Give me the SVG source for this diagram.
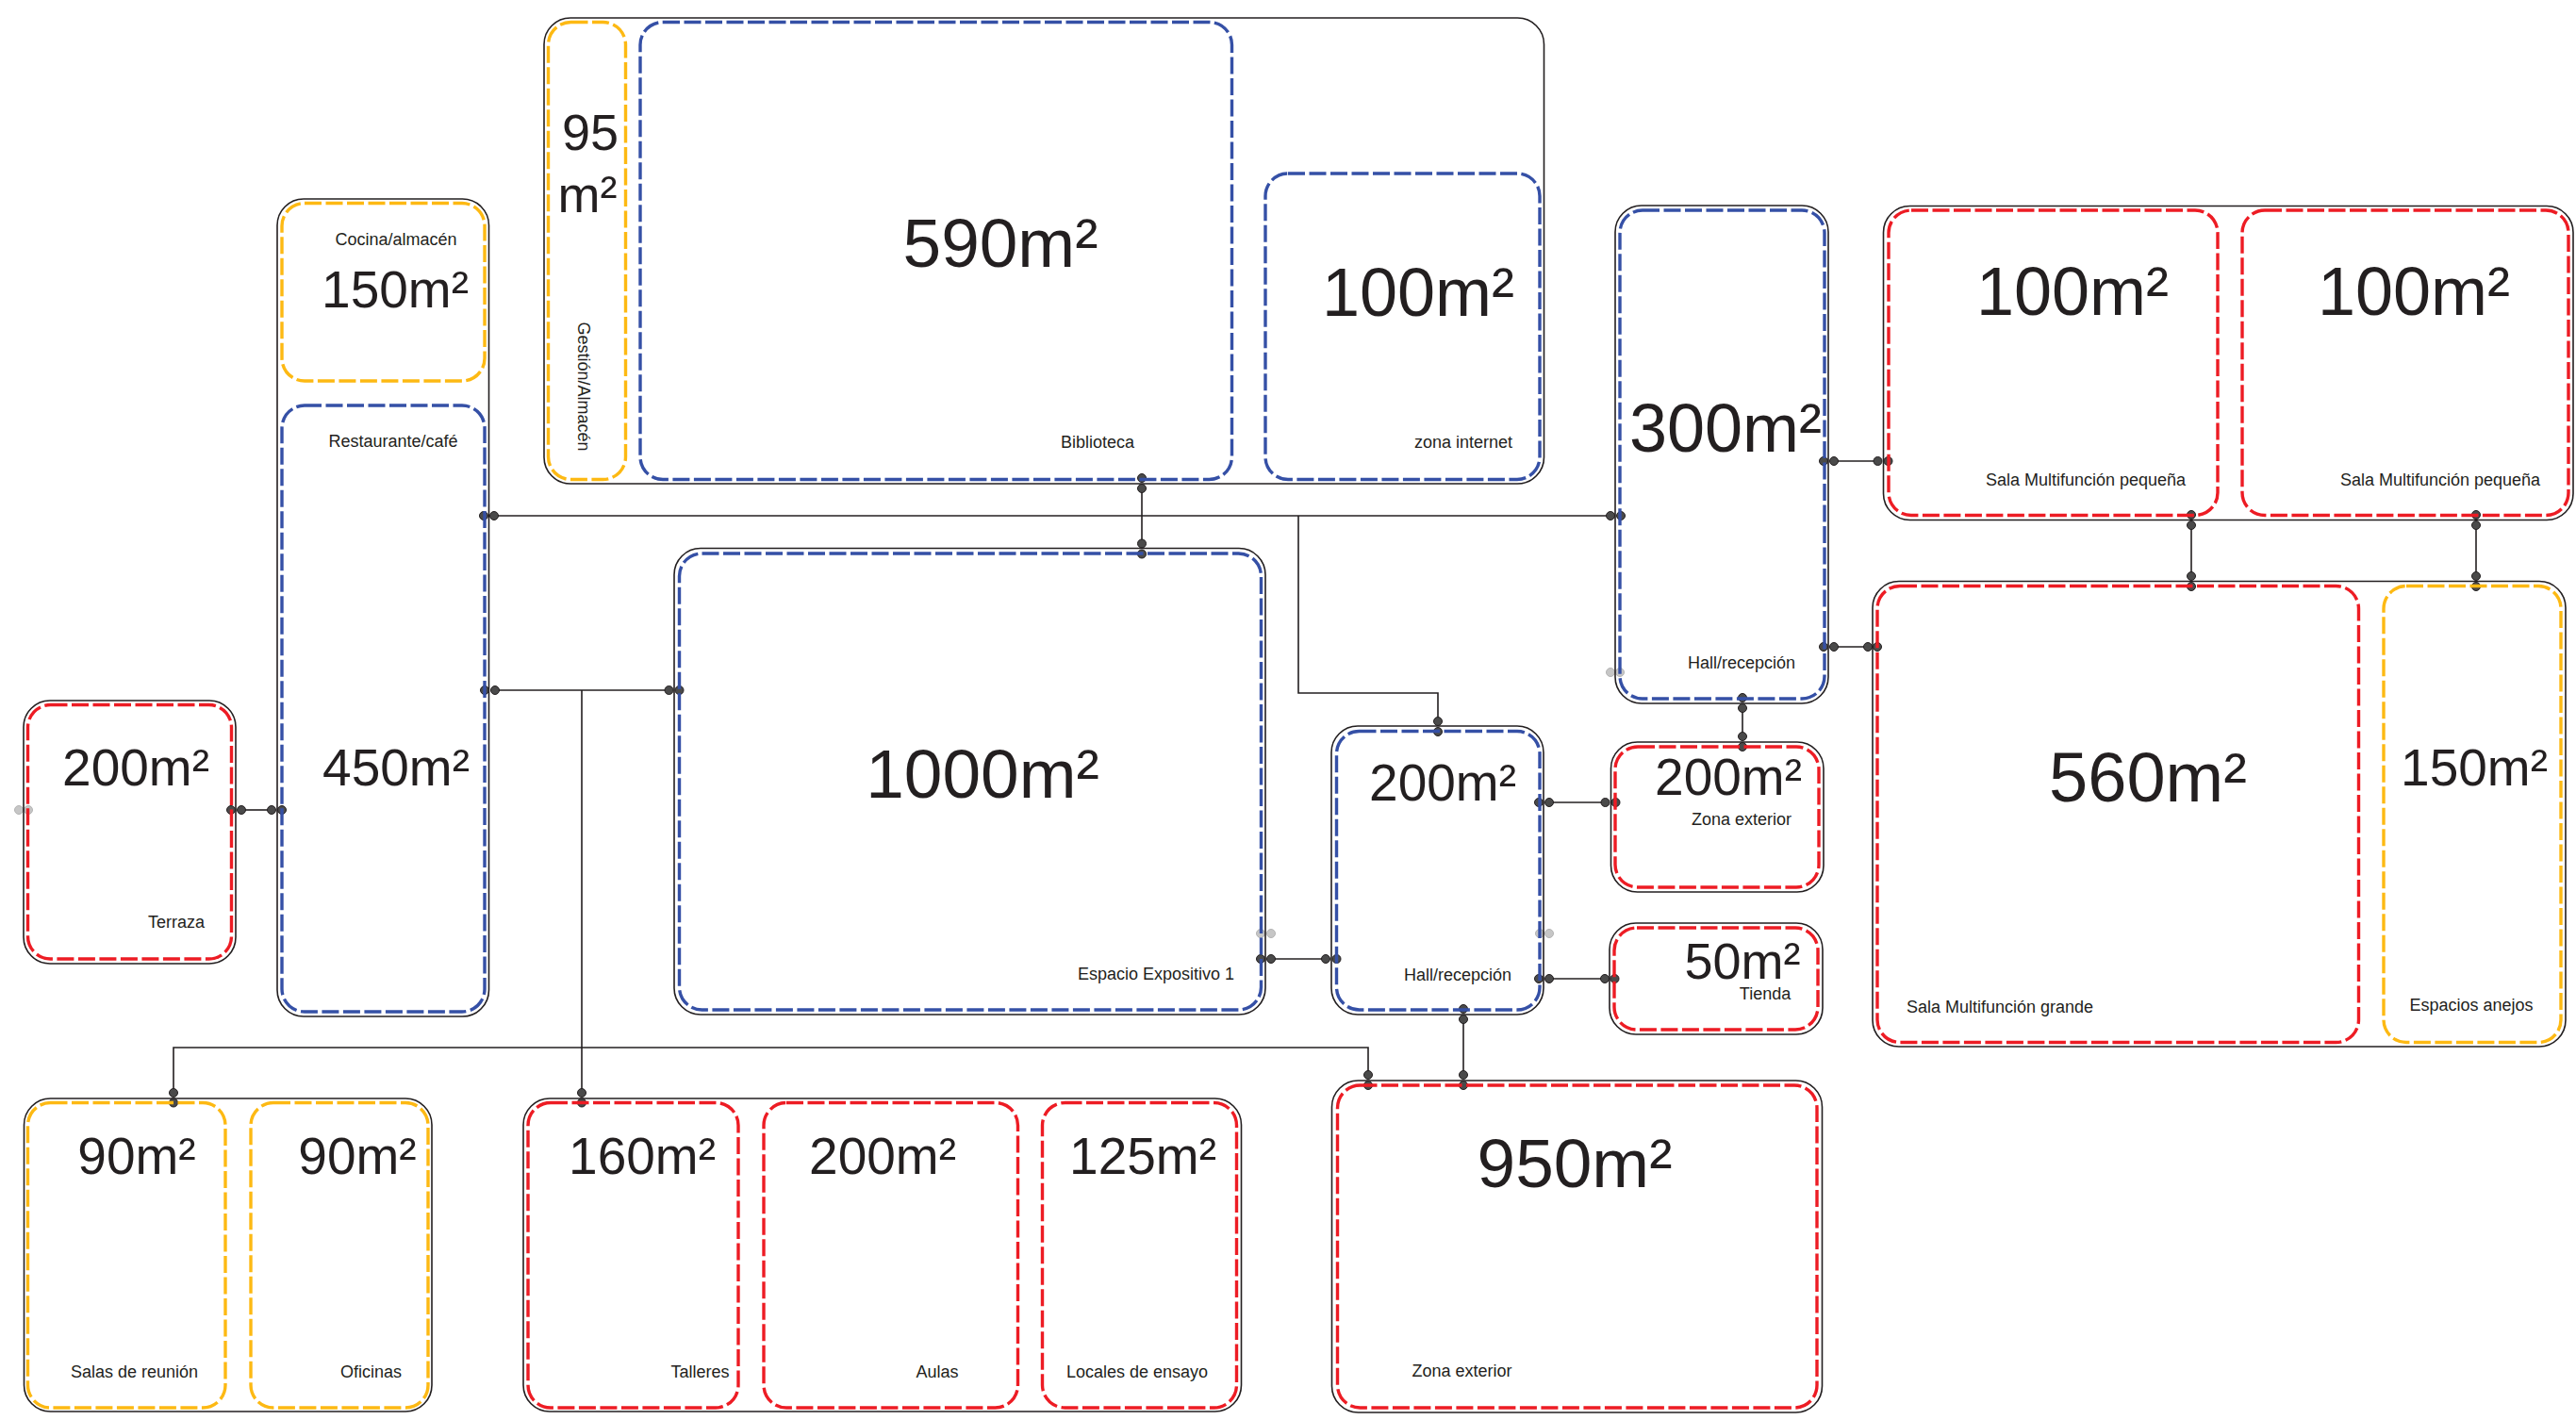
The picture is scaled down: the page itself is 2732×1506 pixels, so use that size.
<svg xmlns="http://www.w3.org/2000/svg" width="2732" height="1506" viewBox="0 0 2732 1506">
<style>
.o{fill:none;stroke:#231f20;stroke-width:1.6}
.r,.b,.y{fill:none;stroke-width:3.4;stroke-dasharray:18 4.5}
.r{stroke:#ed1c24}
.b{stroke:#3550a6}
.y{stroke:#fdb913}
.c{fill:none;stroke:#231f20;stroke-width:1.6}
.d{fill:#4a4a4a;stroke:#231f20;stroke-width:1}
.g{fill:#c6c6c6;stroke:#b4b4b4;stroke-width:1}
text{font-family:"Liberation Sans",Arial,Helvetica,sans-serif;fill:#231f20;text-anchor:middle}
.l{font-size:18px}
.s{font-size:55px}
.m{font-size:72px}
</style>
<rect width="2732" height="1506" fill="#fff"/>

<!-- Connectors -->
<g id="connectors">
<path class="c" d="M256 859H288"/>
<path class="c" d="M524 547H1708"/>
<path class="c" d="M1211 518V576"/>
<path class="c" d="M1377 547V735H1525V765"/>
<path class="c" d="M525 732H709"/>
<path class="c" d="M617 732V1159"/>
<path class="c" d="M184 1159V1111H1451V1140"/>
<path class="c" d="M1348 1017H1406"/>
<path class="c" d="M1643 851H1702"/>
<path class="c" d="M1643 1038H1702"/>
<path class="c" d="M1552 1081V1140"/>
<path class="c" d="M1848 751V781"/>
<path class="c" d="M1945 489H1991"/>
<path class="c" d="M1945 686H1981"/>
<path class="c" d="M2324 557V611"/>
<path class="c" d="M2626 557V611"/>
<g>
<circle class="d" cx="245" cy="859" r="4.5"/><circle class="d" cx="256" cy="859" r="4.5"/>
<circle class="d" cx="288" cy="859" r="4.5"/><circle class="d" cx="299" cy="859" r="4.5"/>
<circle class="g" cx="20" cy="859" r="4.5"/><circle class="g" cx="30" cy="859" r="4.5"/>
<circle class="d" cx="513" cy="547" r="4.5"/><circle class="d" cx="524" cy="547" r="4.5"/>
<circle class="d" cx="1708" cy="547" r="4.5"/><circle class="d" cx="1719" cy="547" r="4.5"/>
<circle class="d" cx="1211" cy="507" r="4.5"/><circle class="d" cx="1211" cy="518" r="4.5"/>
<circle class="d" cx="1211" cy="576.5" r="4.5"/><circle class="d" cx="1211" cy="587.5" r="4.5"/>
<circle class="d" cx="1525" cy="765" r="4.5"/><circle class="d" cx="1525" cy="776" r="4.5"/>
<circle class="d" cx="514" cy="732" r="4.5"/><circle class="d" cx="525" cy="732" r="4.5"/>
<circle class="d" cx="709.5" cy="732" r="4.5"/><circle class="d" cx="720.5" cy="732" r="4.5"/>
<circle class="d" cx="617" cy="1159" r="4.5"/><circle class="d" cx="617" cy="1169.5" r="4.5"/>
<circle class="d" cx="184" cy="1159" r="4.5"/><circle class="d" cx="184" cy="1169.5" r="4.5"/>
<circle class="d" cx="1451" cy="1140" r="4.5"/><circle class="d" cx="1451" cy="1151" r="4.5"/>
<circle class="g" cx="1337" cy="990" r="4.5"/><circle class="g" cx="1348" cy="990" r="4.5"/>
<circle class="g" cx="1633" cy="990" r="4.5"/><circle class="g" cx="1643" cy="990" r="4.5"/>
<circle class="d" cx="1337" cy="1017" r="4.5"/><circle class="d" cx="1348" cy="1017" r="4.5"/>
<circle class="d" cx="1406" cy="1017" r="4.5"/><circle class="d" cx="1417.5" cy="1017" r="4.5"/>
<circle class="d" cx="1632" cy="851" r="4.5"/><circle class="d" cx="1643" cy="851" r="4.5"/>
<circle class="d" cx="1702.5" cy="851" r="4.5"/><circle class="d" cx="1713.5" cy="851" r="4.5"/>
<circle class="d" cx="1632" cy="1038" r="4.5"/><circle class="d" cx="1643" cy="1038" r="4.5"/>
<circle class="d" cx="1702" cy="1038" r="4.5"/><circle class="d" cx="1712.5" cy="1038" r="4.5"/>
<circle class="d" cx="1552" cy="1070" r="4.5"/><circle class="d" cx="1552" cy="1081" r="4.5"/>
<circle class="d" cx="1552" cy="1140" r="4.5"/><circle class="d" cx="1552" cy="1151" r="4.5"/>
<circle class="d" cx="1848" cy="740" r="4.5"/><circle class="d" cx="1848" cy="751" r="4.5"/>
<circle class="d" cx="1848" cy="781" r="4.5"/><circle class="d" cx="1848" cy="792" r="4.5"/>
<circle class="g" cx="1708" cy="713" r="4.5"/><circle class="g" cx="1718" cy="713" r="4.5"/>
<circle class="d" cx="1934" cy="489" r="4.5"/><circle class="d" cx="1945" cy="489" r="4.5"/>
<circle class="d" cx="1991.5" cy="489" r="4.5"/><circle class="d" cx="2002.5" cy="489" r="4.5"/>
<circle class="d" cx="1934" cy="686" r="4.5"/><circle class="d" cx="1945" cy="686" r="4.5"/>
<circle class="d" cx="1981" cy="686" r="4.5"/><circle class="d" cx="1991" cy="686" r="4.5"/>
<circle class="d" cx="2324" cy="546" r="4.5"/><circle class="d" cx="2324" cy="557" r="4.5"/>
<circle class="d" cx="2324" cy="611" r="4.5"/><circle class="d" cx="2324" cy="622" r="4.5"/>
<circle class="d" cx="2626" cy="546" r="4.5"/><circle class="d" cx="2626" cy="557" r="4.5"/>
<circle class="d" cx="2626" cy="611" r="4.5"/><circle class="d" cx="2626" cy="622" r="4.5"/>
</g>
</g>

<!-- Terraza -->
<g id="terraza">
<rect class="o" x="25" y="743" width="225" height="279" rx="28"/>
<rect class="r" x="29.5" y="747.5" width="216" height="269.5" rx="24"/>
<text class="s" x="144" y="833">200m²</text>
<text class="l" x="187" y="984">Terraza</text>
</g>

<!-- Cocina / Restaurante -->
<g id="grupo-restaurante">
<rect class="o" x="294" y="211" width="224.5" height="867" rx="28"/>
<g id="cocina">
<rect class="y" x="299" y="215.5" width="215" height="188.5" rx="24"/>
<text class="l" x="420" y="260">Cocina/almacén</text>
<text class="s" x="419" y="326">150m²</text>
</g>
<g id="restaurante">
<rect class="b" x="299" y="430" width="215" height="643" rx="24"/>
<text class="l" x="417" y="474">Restaurante/café</text>
<text class="s" x="420" y="833">450m²</text>
</g>
</g>

<!-- Biblioteca group -->
<g id="grupo-biblioteca">
<rect class="o" x="577" y="19" width="1060.5" height="494" rx="28"/>
<g id="gestion">
<rect class="y" x="581.5" y="23.5" width="82" height="485" rx="24"/>
<text style="font-size:54px" x="626" y="159">95</text>
<text style="font-size:54px" x="623" y="225">m²</text>
<text class="l" transform="translate(613,410) rotate(90)" x="0" y="0">Gestión/Almacén</text>
</g>
<g id="biblioteca">
<rect class="b" x="679" y="23.5" width="627.5" height="485" rx="24"/>
<text style="font-size:73px" x="1061" y="283">590m²</text>
<text class="l" x="1164" y="475">Biblioteca</text>
</g>
<g id="zona-internet">
<rect class="b" x="1342" y="184" width="291" height="324.5" rx="24"/>
<text class="m" x="1504" y="335">100m²</text>
<text class="l" x="1552" y="475">zona internet</text>
</g>
</g>

<!-- Espacio Expositivo 1 -->
<g id="espacio-expositivo">
<rect class="o" x="715" y="581.5" width="627" height="494.5" rx="28"/>
<rect class="b" x="720.5" y="587" width="617" height="484" rx="24"/>
<text style="font-size:73px" x="1042" y="846">1000m²</text>
<text class="l" x="1226" y="1039">Espacio Expositivo 1</text>
</g>

<!-- Hall 200 -->
<g id="hall-200">
<rect class="o" x="1412" y="770" width="225" height="306" rx="28"/>
<rect class="b" x="1417.5" y="775.5" width="215.5" height="295.5" rx="24"/>
<text class="s" x="1530" y="849">200m²</text>
<text class="l" x="1546" y="1040">Hall/recepción</text>
</g>

<!-- Hall 300 -->
<g id="hall-300">
<rect class="o" x="1713" y="218" width="226" height="528" rx="28"/>
<rect class="b" x="1718" y="223" width="217" height="518" rx="24"/>
<text class="m" x="1830" y="479">300m²</text>
<text class="l" x="1847" y="709">Hall/recepción</text>
</g>

<!-- Zona exterior 200 -->
<g id="zona-exterior-200">
<rect class="o" x="1708.5" y="787" width="225.5" height="159" rx="28"/>
<rect class="r" x="1713" y="792" width="216" height="149" rx="24"/>
<text class="s" x="1833" y="843">200m²</text>
<text class="l" x="1847" y="875">Zona exterior</text>
</g>

<!-- Tienda -->
<g id="tienda">
<rect class="o" x="1707" y="979" width="226" height="118" rx="28"/>
<rect class="r" x="1712" y="984" width="216" height="108" rx="24"/>
<text style="font-size:54px" x="1848" y="1038">50m²</text>
<text class="l" x="1872" y="1060">Tienda</text>
</g>

<!-- Salas multifunción pequeñas -->
<g id="grupo-pequenas">
<rect class="o" x="1997.5" y="218.5" width="731.5" height="333" rx="28"/>
<g id="sala-pequena-1">
<rect class="r" x="2003" y="223" width="349" height="323.5" rx="24"/>
<text class="m" x="2198" y="334">100m²</text>
<text class="l" x="2212" y="515">Sala Multifunción pequeña</text>
</g>
<g id="sala-pequena-2">
<rect class="r" x="2378" y="223" width="346" height="323.5" rx="24"/>
<text class="m" x="2560" y="334">100m²</text>
<text class="l" x="2588" y="515">Sala Multifunción pequeña</text>
</g>
</g>

<!-- Sala grande + anejos -->
<g id="grupo-grande">
<rect class="o" x="1986" y="616.5" width="735" height="493.5" rx="28"/>
<g id="sala-grande">
<rect class="r" x="1991" y="621.5" width="510.5" height="484" rx="24"/>
<text style="font-size:74px" x="2278" y="850">560m²</text>
<text class="l" x="2121" y="1074">Sala Multifunción grande</text>
</g>
<g id="espacios-anejos">
<rect class="y" x="2528" y="621.5" width="188" height="484" rx="24"/>
<text class="s" x="2624" y="833">150m²</text>
<text class="l" x="2621" y="1072">Espacios anejos</text>
</g>
</g>

<!-- Salas de reunión / Oficinas -->
<g id="grupo-oficinas">
<rect class="o" x="25.5" y="1165" width="432.5" height="332" rx="28"/>
<g id="salas-reunion">
<rect class="y" x="29.5" y="1169.5" width="209.5" height="323.5" rx="24"/>
<text class="s" x="145" y="1245">90m²</text>
<text class="l" x="142.5" y="1461">Salas de reunión</text>
</g>
<g id="oficinas">
<rect class="y" x="266" y="1169.5" width="188" height="323.5" rx="24"/>
<text class="s" x="379" y="1245">90m²</text>
<text class="l" x="393.5" y="1461">Oficinas</text>
</g>
</g>

<!-- Talleres / Aulas / Locales -->
<g id="grupo-talleres">
<rect class="o" x="555" y="1165" width="761.5" height="332" rx="28"/>
<g id="talleres">
<rect class="r" x="560" y="1169.5" width="223" height="323.5" rx="24"/>
<text class="s" x="681" y="1245">160m²</text>
<text class="l" x="742.5" y="1461">Talleres</text>
</g>
<g id="aulas">
<rect class="r" x="810" y="1169.5" width="269.5" height="323.5" rx="24"/>
<text class="s" x="936" y="1245">200m²</text>
<text class="l" x="994" y="1461">Aulas</text>
</g>
<g id="locales-ensayo">
<rect class="r" x="1105.5" y="1169.5" width="206" height="323.5" rx="24"/>
<text class="s" x="1212" y="1245">125m²</text>
<text class="l" x="1206" y="1461">Locales de ensayo</text>
</g>
</g>

<!-- Zona exterior 950 -->
<g id="zona-exterior-950">
<rect class="o" x="1412.5" y="1146" width="520" height="352" rx="28"/>
<rect class="r" x="1418.5" y="1151" width="508.5" height="342" rx="24"/>
<text style="font-size:73px" x="1670" y="1259">950m²</text>
<text class="l" x="1550.5" y="1460">Zona exterior</text>
</g>
</svg>
